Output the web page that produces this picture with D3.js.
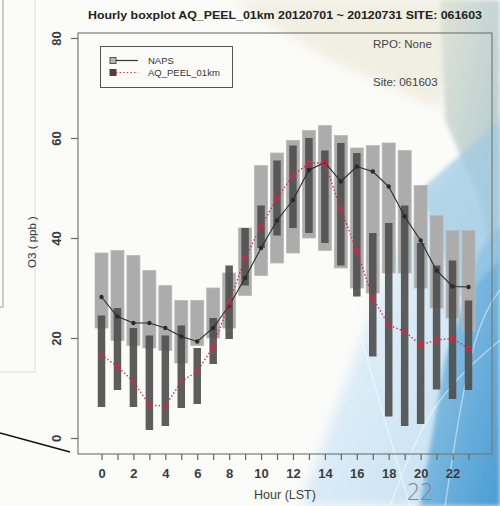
<!DOCTYPE html>
<html>
<head>
<meta charset="utf-8">
<script src="https://cdn.jsdelivr.net/npm/d3@7"></script>
<style>
  html, body { margin: 0; padding: 0; background: #ffffff; }
  svg { display: block; }
</style>
</head>
<body>
<svg id="chart" width="500" height="506"></svg>
<script>
// Hourly O3 distribution: NAPS observations vs AQ_PEEL_01km model
const hours = [0, 1, 2, 3, 4, 5, 6, 7, 8, 9, 10, 11, 12, 13, 14, 15, 16, 17, 18, 19, 20, 21, 22, 23];
const xTickLabels = [0, 2, 4, 6, 8, 10, 12, 14, 16, 18, 20, 22];
const yTickValues = [0, 20, 40, 60, 80];

// NAPS range (light bars)
const napsHigh = [37, 37.5, 36.5, 33.5, 30.5, 27.5, 27.5, 30, 33, 42, 54.5, 57, 59.5, 61.5, 62.5, 60.5, 58, 58.5, 59, 57.5, 50.5, 44.5, 41.5, 41.5];
const napsLow  = [22, 19.5, 18.5, 18, 17.5, 15, 18.5, 20, 22, 28.5, 32.5, 35, 37, 40, 37.5, 34, 30, 29, 33, 33, 30, 26, 24, 21.5];
// Model range (dark bars)
const modelHigh = [24.5, 26, 22, 20.5, 20.5, 22.5, 18, 24, 34.5, 42, 46.5, 55.5, 58.5, 60, 57.5, 59, 57, 41, 43, 46.5, 39, 34.5, 35.5, 27.5];
const modelLow  = [6.2, 9.6, 6.2, 1.6, 2.4, 6, 6.8, 14.8, 19.8, 30.5, 38, 40.5, 42, 41, 39, 34.5, 28.3, 16.3, 4.3, 2.4, 2.8, 9.7, 7.8, 9.6];
// Hourly means
const napsMean  = [28.2, 24.3, 23, 23, 22, 20.3, 19.3, 22, 26.5, 32, 38, 43.5, 47.6, 53.6, 55.1, 51.3, 54.3, 53.3, 50.3, 44.3, 39.5, 33.5, 30.3, 30.2];
const modelMean = [16.6, 14.3, 11.3, 6.6, 6.4, 11.3, 13.3, 18.3, 27, 36, 42.3, 48, 52.5, 55, 55, 45.8, 37.5, 28, 22.6, 21.3, 18.6, 19.6, 19.9, 17.9];

const seriesNames = ["NAPS", "AQ_PEEL_01km"];
const titleText = "Hourly boxplot AQ_PEEL_01km 20120701 ~ 20120731 SITE: 061603";

const svg = d3.select("#chart");
const defs = svg.append("defs");

// ---- slide background ----
const bg = svg.append("g");
bg.append("rect").attr("width", 500).attr("height", 506).attr("fill", "#fbfbf9");

defs.append("filter").attr("id", "soft").append("feGaussianBlur").attr("stdDeviation", 6);
defs.append("filter").attr("id", "soft2").append("feGaussianBlur").attr("stdDeviation", 2);

const gPale = defs.append("linearGradient").attr("id", "pale").attr("x1", 0).attr("y1", 0).attr("x2", 1).attr("y2", 1);
gPale.append("stop").attr("offset", 0).attr("stop-color", "#f4f9fc");
gPale.append("stop").attr("offset", 1).attr("stop-color", "#c0ddf0");
const gBlue = defs.append("linearGradient").attr("id", "blue").attr("x1", 0).attr("y1", 0).attr("x2", 1).attr("y2", 1);
gBlue.append("stop").attr("offset", 0).attr("stop-color", "#a4cfe9");
gBlue.append("stop").attr("offset", 1).attr("stop-color", "#4a9cd3");
const gTop = defs.append("linearGradient").attr("id", "topright").attr("x1", 0).attr("y1", 0).attr("x2", 1).attr("y2", 1);
gTop.append("stop").attr("offset", 0).attr("stop-color", "#dfe3d6");
gTop.append("stop").attr("offset", 1).attr("stop-color", "#a9c6d0");

const shape = d3.line();
bg.append("path").attr("d", shape([[230, 0], [470, 0], [440, 110], [330, 60]]) + "Z")
  .attr("fill", "#f1efe2").attr("filter", "url(#soft)");
bg.append("path").attr("d", shape([[300, 506], [395, 250], [470, 150], [500, 130], [500, 506]]) + "Z")
  .attr("fill", "url(#pale)").attr("filter", "url(#soft)");
bg.append("path").attr("d", shape([[440, 0], [500, 0], [500, 300], [480, 200], [445, 120]]) + "Z")
  .attr("fill", "url(#topright)").attr("filter", "url(#soft2)");
bg.append("path").attr("d", shape([[420, 506], [445, 360], [480, 250], [500, 225], [500, 506]]) + "Z")
  .attr("fill", "url(#blue)").attr("filter", "url(#soft2)");
bg.append("path").attr("d", shape([[420, 190], [500, 120], [500, 260], [460, 300]]) + "Z")
  .attr("fill", "#9fcbe3").attr("opacity", 0.7).attr("filter", "url(#soft2)");
// light streaks
[[[350, 300], [395, 455], [410, 506]], [[445, 506], [472, 330], [500, 290]], [[390, 506], [430, 400], [500, 340]]]
  .forEach(p => bg.append("path").attr("d", d3.line().curve(d3.curveBasis)(p))
    .attr("fill", "none").attr("stroke", "#ffffff").attr("stroke-width", 1.5).attr("opacity", 0.45));

// neighbouring slide panels on the left
bg.append("path").attr("d", "M3,0V307H0").attr("fill", "none").attr("stroke", "#9a9a9a").attr("stroke-width", 1);
bg.append("path").attr("d", "M35,0V372H0").attr("fill", "none").attr("stroke", "#dddddd").attr("stroke-width", 1);
bg.append("line").attr("x1", 0).attr("y1", 433).attr("x2", 70).attr("y2", 452)
  .attr("stroke", "#111").attr("stroke-width", 1.5);

// slide number
svg.append("text").attr("x", 420).attr("y", 500).attr("text-anchor", "middle")
  .attr("font-family", "'Open Sans', sans-serif").attr("font-weight", 300)
  .attr("font-size", 23).attr("fill", "#858585").text("22");

// ---- chart ----
const x = d3.scaleLinear().domain([0, 23]).range([101.5, 468.5]);
const y = d3.scaleLinear().domain([0, 80]).range([438, 38]);
const frame = { left: 78, top: 33, right: 492, bottom: 454 };

const chart = svg.append("g").attr("font-family", "'Liberation Sans', Arial, sans-serif");

// plot frame
chart.append("rect").attr("x", frame.left).attr("y", frame.top)
  .attr("width", frame.right - frame.left).attr("height", frame.bottom - frame.top)
  .attr("fill", "none").attr("stroke", "#7a7a7a").attr("stroke-width", 1.2);

// NAPS bars
const wLight = 13, wDark = 7.5;
chart.append("g").selectAll("rect").data(hours).join("rect")
  .attr("x", d => x(d) - wLight / 2)
  .attr("y", (d, i) => y(napsHigh[i]))
  .attr("width", wLight)
  .attr("height", (d, i) => y(napsLow[i]) - y(napsHigh[i]))
  .attr("fill", "#acacac").attr("stroke", "#bababa").attr("stroke-width", 0.8);

// model bars
chart.append("g").selectAll("rect").data(hours).join("rect")
  .attr("x", d => x(d) - wDark / 2)
  .attr("y", (d, i) => y(modelHigh[i]))
  .attr("width", wDark)
  .attr("height", (d, i) => y(modelLow[i]) - y(modelHigh[i]))
  .attr("fill", "#4f4f4f").attr("opacity", 0.92);

// mean lines
const meanLine = arr => d3.line().x(d => x(d)).y(d => y(arr[d]))(hours);
chart.append("path").attr("d", meanLine(napsMean))
  .attr("fill", "none").attr("stroke", "#2a2a2a").attr("stroke-width", 1.1);
chart.append("g").selectAll("circle").data(hours).join("circle")
  .attr("cx", d => x(d)).attr("cy", d => y(napsMean[d])).attr("r", 2.2).attr("fill", "#2a2a2a");

chart.append("path").attr("d", meanLine(modelMean))
  .attr("fill", "none").attr("stroke", "#d22a45").attr("stroke-width", 1.4)
  .attr("stroke-dasharray", "1.4,2.2");
chart.append("g").selectAll("circle").data(hours).join("circle")
  .attr("cx", d => x(d)).attr("cy", d => y(modelMean[d])).attr("r", 2.2)
  .attr("fill", "none").attr("stroke", "#d22a45").attr("stroke-width", 1.2);

// axes
const xAxis = d3.axisBottom(x).tickValues(hours).tickSize(6).tickPadding(8.5)
  .tickFormat(d => xTickLabels.includes(d) ? d : "");
const gx = chart.append("g").attr("transform", `translate(0,${frame.bottom})`).call(xAxis);
gx.select(".domain").remove();
gx.selectAll(".tick line").attr("stroke", "#666").attr("stroke-width", 1.2);
gx.selectAll("text").attr("font-size", 13).attr("font-weight", "bold").attr("fill", "#3c3c3c")
  .attr("font-family", "'Liberation Sans', Arial, sans-serif");

const yAxis = d3.axisLeft(y).tickValues(yTickValues).tickSize(7);
const gy = chart.append("g").attr("transform", `translate(${frame.left},0)`).call(yAxis);
gy.select(".domain").remove();
gy.selectAll(".tick line").attr("stroke", "#666").attr("stroke-width", 1.2);
gy.selectAll("text").attr("x", null).attr("dy", null)
  .attr("transform", "translate(-17.5,0) rotate(-90)").attr("text-anchor", "middle")
  .attr("font-size", 13).attr("font-weight", "bold").attr("fill", "#3c3c3c")
  .attr("font-family", "'Liberation Sans', Arial, sans-serif");

// titles
chart.append("text").attr("x", 285).attr("y", 19).attr("text-anchor", "middle")
  .attr("font-size", 11).attr("font-weight", "bold").attr("fill", "#222")
  .attr("textLength", 394).attr("lengthAdjust", "spacingAndGlyphs").text(titleText);
chart.append("text").attr("x", 285).attr("y", 499).attr("text-anchor", "middle")
  .attr("font-size", 12.5).attr("fill", "#3c3c3c").text("Hour (LST)");
chart.append("text").attr("transform", "translate(36,242) rotate(-90)").attr("text-anchor", "middle")
  .attr("font-size", 11.5).attr("fill", "#3c3c3c").text("O3 ( ppb )");

// annotations
chart.append("text").attr("x", 373).attr("y", 48).attr("font-size", 11.5).attr("fill", "#444").text("RPO: None");
chart.append("text").attr("x", 373).attr("y", 86).attr("font-size", 11.5).attr("fill", "#444").text("Site: 061603");

// legend
const lg = chart.append("g");
lg.append("rect").attr("x", 100.5).attr("y", 46.5).attr("width", 132).attr("height", 41)
  .attr("fill", "none").attr("stroke", "#555").attr("stroke-width", 1);
const legendRows = [
  { name: seriesNames[0], yy: 60.5, fill: "#b5b5b5", box: "#555", line: "#333", dash: null },
  { name: seriesNames[1], yy: 72.5, fill: "#553a48", box: "#553a48", line: "#d22a45", dash: "1.4,2.2" }
];
legendRows.forEach(r => {
  lg.append("rect").attr("x", 110).attr("y", r.yy - 3).attr("width", 6).attr("height", 6)
    .attr("fill", r.fill).attr("stroke", r.box).attr("stroke-width", 1);
  lg.append("line").attr("x1", 116).attr("x2", 138).attr("y1", r.yy).attr("y2", r.yy)
    .attr("stroke", r.line).attr("stroke-width", 1.2).attr("stroke-dasharray", r.dash);
  lg.append("text").attr("x", 148).attr("y", r.yy + 3.4).attr("font-size", 9.5).attr("fill", "#333").text(r.name);
});
</script>
</body>
</html>
